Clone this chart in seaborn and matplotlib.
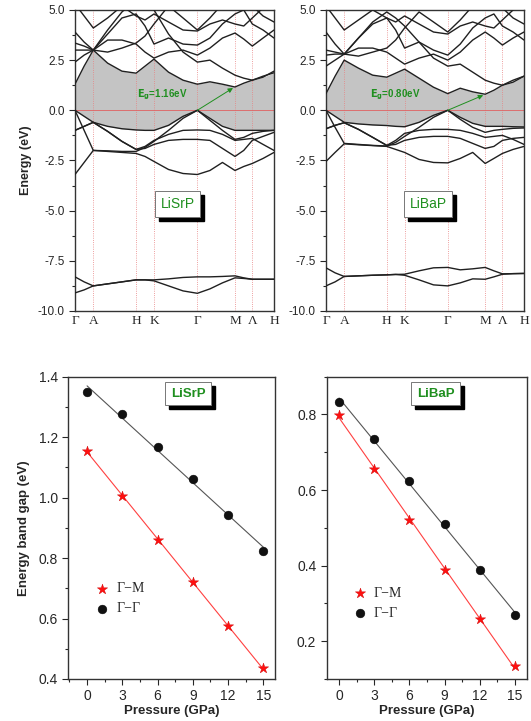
import numpy as np
import pandas as pd
import matplotlib
matplotlib.use("Agg")
import matplotlib.pyplot as plt
from matplotlib.patches import Rectangle
from matplotlib.ticker import MultipleLocator, FormatStrFormatter
import seaborn as sns

sns.set_theme(style="ticks")
plt.rcParams['font.family'] = ['Liberation Sans', 'DejaVu Sans']

# ---------------- data ----------------
K_PTS = [0, 0.046, 0.092, 0.164, 0.236, 0.307, 0.352, 0.397, 0.47, 0.543,
         0.615, 0.678, 0.741, 0.804, 0.848, 0.891, 0.945, 1.0]
HS_POS = [0, 0.092, 0.307, 0.397, 0.615, 0.804, 0.891, 1.0]
HS_LABELS = ['Γ', 'A', 'H', 'K', 'Γ', 'M', 'Λ', 'H']

# LiSrP bands
srp_cond = {
    'C1': [1.3, 2.2, 3.0, 2.35, 1.95, 1.85, 2.2, 2.55, 1.9, 1.5, 1.3, 1.42, 1.3, 1.16, 1.35, 1.5, 1.7, 1.87],
    'C2': [2.4, 2.75, 3.0, 4.0, 4.9, 5.5, 5.5, 5.0, 3.8, 2.9, 2.4, 2.5, 2.1, 1.75, 1.6, 1.5, 1.65, 1.95],
    'C3': [3.0, 3.0, 3.0, 3.5, 3.5, 3.3, 2.9, 2.6, 2.9, 3.0, 2.75, 3.1, 3.6, 3.85, 3.55, 3.2, 3.6, 4.0],
    'C4': [3.35, 3.2, 3.0, 3.8, 4.6, 4.8, 4.2, 3.3, 3.6, 3.3, 3.25, 3.6, 4.3, 4.8, 5.0, 4.3, 4.0, 3.6],
    'C5': [3.9, 3.4, 3.0, 2.9, 3.1, 3.35, 3.7, 4.3, 5.2, 4.6, 4.0, 4.6, 5.3, 5.5, 5.5, 5.2, 4.7, 4.4],
    'C6': [5.3, 4.7, 4.1, 4.6, 5.2, 4.7, 4.5, 4.8, 4.4, 4.0, 3.95, 4.3, 4.5, 4.3, 4.2, 4.6, 5.1, 5.5],
}
srp_val = {
    'V1': [0.0, -0.3, -0.6, -0.8, -0.92, -0.98, -1.0, -1.0, -0.75, -0.3, 0.0, -0.4, -0.8, -1.0, -1.0, -1.0, -1.0, -1.0],
    'V2': [0.0, -1.0, -2.0, -2.02, -2.05, -2.05, -1.85, -1.55, -1.0, -0.4, 0.0, -0.5, -1.0, -1.45, -1.35, -1.15, -1.05, -1.0],
    'V3': [-1.0, -0.8, -0.6, -1.05, -1.55, -1.95, -1.8, -1.5, -1.2, -1.0, -0.98, -1.0, -1.2, -1.5, -1.45, -1.4, -1.7, -2.0],
    'V4': [-3.2, -2.6, -2.0, -2.05, -2.1, -2.15, -2.3, -2.55, -2.95, -3.15, -3.2, -3.0, -2.6, -3.0, -2.8, -2.65, -2.4, -2.1],
    'V5': [-1.0, -0.8, -0.6, -1.05, -1.55, -1.95, -1.9, -1.7, -1.5, -1.45, -1.45, -1.5, -1.9, -2.3, -2.0, -1.5, -1.3, -1.1],
    'D1': [-8.3, -8.55, -8.75, -8.65, -8.55, -8.45, -8.45, -8.45, -8.4, -8.33, -8.3, -8.3, -8.28, -8.25, -8.35, -8.42, -8.42, -8.42],
    'D2': [-9.1, -8.95, -8.75, -8.65, -8.55, -8.45, -8.45, -8.5, -8.75, -9.0, -9.12, -8.9, -8.6, -8.35, -8.38, -8.42, -8.42, -8.42],
}
# LiBaP bands
bap_cond = {
    'C1': [0.83, 1.7, 2.5, 2.1, 1.75, 1.65, 1.85, 2.05, 1.6, 1.15, 0.83, 1.1, 0.92, 0.8, 1.0, 1.25, 1.5, 1.7],
    'C2': [2.2, 2.5, 2.8, 3.6, 4.4, 4.9, 4.6, 4.2, 3.4, 2.6, 2.2, 2.3, 1.9, 1.5, 1.35, 1.25, 1.4, 1.7],
    'C3': [2.75, 2.8, 2.8, 3.1, 3.1, 2.9, 2.6, 2.3, 2.6, 2.8, 2.5, 2.9, 3.5, 3.9, 3.6, 3.25, 3.6, 3.9],
    'C4': [3.0, 2.9, 2.8, 3.6, 4.3, 4.6, 4.0, 3.1, 3.4, 3.0, 2.75, 3.3, 4.1, 4.6, 4.8, 4.2, 3.9, 3.5],
    'C5': [3.9, 3.3, 2.8, 2.7, 2.9, 3.1, 3.5, 4.1, 4.9, 4.4, 3.9, 4.5, 5.2, 5.4, 5.4, 5.1, 4.6, 4.3],
    'C6': [5.2, 4.6, 4.0, 4.5, 5.0, 4.6, 4.4, 4.7, 4.3, 3.9, 3.8, 4.2, 4.4, 4.2, 4.1, 4.5, 5.0, 5.4],
}
bap_val = {
    'V1': [0.0, -0.3, -0.6, -0.68, -0.73, -0.76, -0.8, -0.82, -0.6, -0.25, 0.0, -0.35, -0.65, -0.8, -0.8, -0.8, -0.82, -0.83],
    'V2': [0.0, -0.85, -1.65, -1.7, -1.75, -1.78, -1.6, -1.3, -0.85, -0.35, 0.0, -0.45, -0.85, -1.1, -1.0, -0.95, -0.9, -0.88],
    'V3': [-0.92, -0.75, -0.62, -0.95, -1.35, -1.75, -1.5, -1.15, -1.0, -0.95, -0.95, -1.0, -1.15, -1.35, -1.3, -1.25, -1.45, -1.7],
    'V4': [-2.55, -2.1, -1.67, -1.72, -1.76, -1.8, -1.95, -2.1, -2.45, -2.6, -2.62, -2.4, -2.1, -2.65, -2.4, -2.15, -1.95, -1.8],
    'V5': [-0.92, -0.75, -0.62, -0.95, -1.35, -1.75, -1.7, -1.5, -1.35, -1.3, -1.3, -1.4, -1.65, -1.9, -1.8, -1.5, -1.4, -1.35],
    'D1': [-7.85, -8.1, -8.28, -8.25, -8.22, -8.2, -8.18, -8.17, -8.0, -7.85, -7.83, -7.95, -7.9, -7.83, -8.0, -8.15, -8.14, -8.13],
    'D2': [-8.75, -8.55, -8.28, -8.25, -8.22, -8.2, -8.18, -8.22, -8.45, -8.7, -8.75, -8.6, -8.4, -8.42, -8.3, -8.17, -8.14, -8.13],
}
EG_SRP = 1.16
EG_BAP = 0.80

pressure = [0, 3, 6, 9, 12, 15]
srp_GM = [1.155, 1.005, 0.86, 0.72, 0.575, 0.435]
srp_GG = [1.348, 1.275, 1.168, 1.062, 0.941, 0.823]
bap_GM = [0.798, 0.656, 0.520, 0.389, 0.259, 0.133]
bap_GG = [0.832, 0.735, 0.625, 0.509, 0.388, 0.269]

GREEN = '#1f8f1f'
fig = plt.figure(figsize=(5.31, 7.21), dpi=100)
boxed_texts = []


def boxed_text(ax, x, y, s, transform, bold, fs):
    w = 'bold' if bold else 'normal'
    t = ax.text(x, y, s, transform=transform, color=GREEN, fontsize=fs, fontweight=w,
                ha='center', va='center', zorder=7,
                bbox=dict(boxstyle='square,pad=0.42', fc='white', ec='#777777', lw=0.7))
    boxed_texts.append((ax, t))


def band_panel(rect, cond, val, eg, name, ylabel, label_k):
    ax = fig.add_axes(rect)
    rows = []
    for bname, vals in list(cond.items()) + list(val.items()):
        for kk, e in zip(K_PTS, vals):
            rows.append((bname, kk, e))
    df = pd.DataFrame(rows, columns=['band', 'k', 'E'])
    cb_min = np.min(np.array(list(cond.values())), axis=0)
    vb_max = np.max(np.array([v for n, v in val.items() if not n.startswith('D')]), axis=0)
    ax.fill_between(K_PTS, vb_max, cb_min, color='#c4c4c4', lw=0, zorder=1)
    for p in HS_POS[1:-1]:
        ax.axvline(p, color='#e88080', ls=':', lw=0.6, zorder=2)
    ax.axhline(0, color='#e06060', lw=0.6, zorder=2)
    sns.lineplot(data=df, x='k', y='E', units='band', estimator=None, sort=False,
                 color='#202020', lw=1.0, ax=ax, zorder=3)
    ax.set_xlim(0, 1)
    ax.set_ylim(-10, 5)
    ax.set_xticks(HS_POS)
    ax.set_xticklabels(HS_LABELS, family='Liberation Serif', fontsize=9.5)
    ax.tick_params(axis='x', length=0, pad=3)
    ax.yaxis.set_major_locator(MultipleLocator(2.5))
    ax.yaxis.set_minor_locator(MultipleLocator(1.25))
    ax.yaxis.set_major_formatter(FormatStrFormatter('%.1f'))
    ax.tick_params(axis='y', which='major', length=4, width=0.8, labelsize=8.5, direction='out')
    ax.tick_params(axis='y', which='minor', length=2.5, width=0.8, direction='out')
    ax.set_xlabel('')
    if ylabel:
        ax.set_ylabel('Energy (eV)', fontsize=9, fontweight='bold', labelpad=4)
    else:
        ax.set_ylabel('')
    for s in ax.spines.values():
        s.set_linewidth(1.0)
        s.set_color('#333333')
    ax.annotate('', xy=(HS_POS[5] - 0.01, eg - 0.05), xytext=(HS_POS[4], 0.0),
                arrowprops=dict(arrowstyle='-|>', color=GREEN, lw=0.7,
                                mutation_scale=7, shrinkA=0, shrinkB=0), zorder=5)
    ax.text(label_k, 0.78, r'$\mathbf{E_g}$' + '=%.2feV' % eg, color=GREEN, fontsize=7,
            fontweight='bold', ha='center', va='center', zorder=5)
    boxed_text(ax, 0.515, -4.68, name, ax.transData, False, 10)
    return ax


band_panel([0.1412, 0.5687, 0.3748, 0.4175], srp_cond, srp_val, EG_SRP, 'LiSrP', True, 0.44)
band_panel([0.6139, 0.5687, 0.3729, 0.4175], bap_cond, bap_val, EG_BAP, 'LiBaP', False, 0.35)


def gap_panel(rect, gm, gg, ylim, xlim, name, ylabel, leg_xy, name_x):
    ax = fig.add_axes(rect)
    sns.regplot(x=pressure, y=gm, scatter=False, ci=None, truncate=True,
                line_kws=dict(color='#ff4040', lw=0.8), ax=ax)
    sns.regplot(x=pressure, y=gg, scatter=False, ci=None, truncate=True,
                line_kws=dict(color='#555555', lw=0.8), ax=ax)
    sns.scatterplot(x=pressure, y=gm, marker='*', color='#ff1010', s=60,
                    edgecolor='#cc0000', linewidth=0.3, label='Γ−M', ax=ax, zorder=4)
    sns.scatterplot(x=pressure, y=gg, marker='o', color='#111111', s=40,
                    edgecolor='#000000', linewidth=0.3, label='Γ−Γ', ax=ax, zorder=4)
    ax.set_xlim(*xlim)
    ax.set_ylim(*ylim)
    ax.set_xticks([0, 3, 6, 9, 12, 15])
    ax.xaxis.set_minor_locator(MultipleLocator(1.5))
    ax.yaxis.set_major_locator(MultipleLocator(0.2))
    ax.yaxis.set_minor_locator(MultipleLocator(0.1))
    ax.yaxis.set_major_formatter(FormatStrFormatter('%.1f'))
    ax.tick_params(which='major', length=4, width=0.8, labelsize=10, direction='out')
    ax.tick_params(which='minor', length=2.5, width=0.8, direction='out')
    ax.set_xlabel('Pressure (GPa)', fontsize=9.5, fontweight='bold', labelpad=1)
    if ylabel:
        ax.set_ylabel('Energy band gap (eV)', fontsize=9.5, fontweight='bold', labelpad=6)
    for s in ax.spines.values():
        s.set_linewidth(1.0)
        s.set_color('#333333')
    ax.legend(loc='center left', bbox_to_anchor=leg_xy, frameon=False,
              prop=dict(family='Liberation Serif', size=10), handletextpad=0.4,
              labelspacing=0.5, borderpad=0, handlelength=1.2)
    boxed_text(ax, name_x, 0.944, name, ax.transAxes, True, 9.5)
    return ax


gap_panel([0.1286, 0.0583, 0.3893, 0.4193], srp_GM, srp_GG, (0.4, 1.4), (-1.6, 16.0),
          'LiSrP', True, (0.09, 0.265), 0.58)
gap_panel([0.6153, 0.0583, 0.3766, 0.4193], bap_GM, bap_GG, (0.1, 0.9), (-1.05, 16.0),
          'LiBaP', False, (0.09, 0.25), 0.545)

# drop shadows behind the label boxes
fig.canvas.draw()
renderer = fig.canvas.get_renderer()
for ax, t in boxed_texts:
    bb = t.get_bbox_patch().get_window_extent(renderer)
    inv = ax.transAxes.inverted()
    (x0, y0), (x1, y1) = inv.transform([(bb.x0 + 4, bb.y0 - 4), (bb.x1 + 4, bb.y1 - 4)])
    ax.add_patch(Rectangle((x0, y0), x1 - x0, y1 - y0, transform=ax.transAxes,
                           fc='black', ec='black', zorder=6, clip_on=False))

fig.savefig('out.png', dpi=100)
